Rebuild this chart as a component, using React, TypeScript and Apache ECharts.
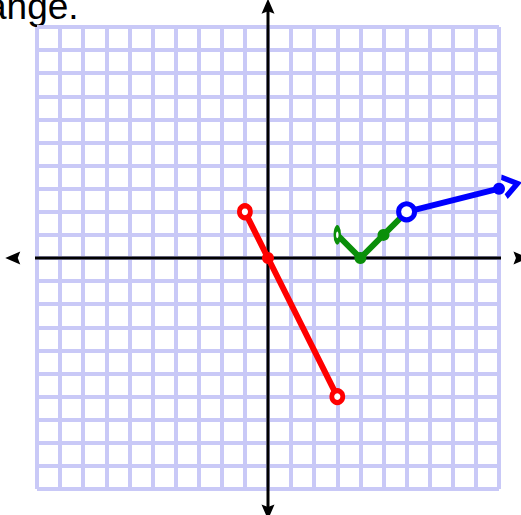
import React, { useEffect, useRef } from "react";
import * as echarts from "echarts";

// Axis range and grid ticks
const axisMin = -10;
const axisMax = 10;
const tickStep = 1;

// Extents of the drawn black axes (beyond the grid, with arrows)
const xAxisExtent = [-11.05, 10.95];
const yAxisExtent = [-11.0, 10.9];

// Red piece: y = -2x, open ends at x=-1 and x=3, solid point at origin
const redX = [-1, 0, 3];
const redY = [2, 0, -6];

// Green piece: y = |x - 4|, open at x=3
const greenX = [3, 4, 5, 6];
const greenY = [1, 0, 1, 2];

// Blue piece: y = 2 + (x-6)/4, open at x=6, continues with arrow
const blueX = [6, 10, 10.6];
const blueY = [2, 3, 3.15];

// Open (hollow) endpoints and filled points
const redOpen = [[-1, 2], [3, -6]];
const redDots = [[0, 0]];
const greenOpen = [[3, 1]];
const greenDots = [[4, 0], [5, 1]];
const blueOpen = [[6, 2]];
const blueDots = [[10, 3]];
const blueArrow = [[10.5, 3.15]];

const headerText = "ange.";

const RED = "#ff0000";
const GREEN = "#0a8f0a";
const BLUE = "#0000ff";

const ARROW_HEAD = "path://M5 0L10 12L5 10L0 12Z";

export default function App() {
  const ref = useRef<HTMLDivElement>(null);

  useEffect(() => {
    if (!ref.current) return;
    const chart = echarts.init(ref.current, undefined, { renderer: "svg" });

    const valueAxis = {
      type: "value" as const,
      min: axisMin,
      max: axisMax,
      interval: tickStep,
      axisLine: { show: false },
      axisTick: { show: false },
      axisLabel: { show: false },
      splitLine: { show: true, lineStyle: { color: "#c9c9f7", width: 4 } },
    };

    const axisLine = (data: number[][]) => ({
      type: "line" as const,
      data,
      clip: false,
      silent: true,
      z: 2,
      symbol: "none",
      lineStyle: { color: "#000", width: 3 },
    });

    const arrowHead = (point: number[], rotate: number) => ({
      type: "scatter" as const,
      data: [point],
      clip: false,
      silent: true,
      z: 3,
      symbol: ARROW_HEAD,
      symbolSize: [13, 15],
      symbolKeepAspect: false,
      symbolRotate: rotate,
      itemStyle: { color: "#000", opacity: 1 },
    });

    const lineSeries = (xs: number[], ys: number[], color: string) => ({
      type: "line" as const,
      data: xs.map((x, i) => [x, ys[i]]),
      clip: false,
      silent: true,
      z: 4,
      symbol: "none",
      lineStyle: { color, width: 6 },
    });

    const openSeries = (data: number[][], color: string, size: any, bw: number) => ({
      type: "scatter" as const,
      data,
      clip: false,
      silent: true,
      z: 6,
      symbol: "circle",
      symbolSize: size,
      itemStyle: { color: "#ffffff", borderColor: color, borderWidth: bw, opacity: 1 },
    });

    const dotSeries = (data: number[][], color: string) => ({
      type: "scatter" as const,
      data,
      clip: false,
      silent: true,
      z: 6,
      symbol: "circle",
      symbolSize: 12,
      itemStyle: { color, opacity: 1 },
    });

    chart.setOption({
      animation: false,
      backgroundColor: "#ffffff",
      grid: { left: 37, top: 27, width: 462, height: 462 },
      xAxis: valueAxis,
      yAxis: valueAxis,
      graphic: [
        {
          type: "text",
          x: -14,
          y: 6,
          style: {
            text: headerText,
            font: '37px "Liberation Sans", Arial, sans-serif',
            fill: "#000",
            verticalAlign: "middle",
          },
        },
      ],
      series: [
        axisLine([[xAxisExtent[0], 0], [xAxisExtent[1], 0]]),
        axisLine([[0, yAxisExtent[0]], [0, yAxisExtent[1]]]),
        arrowHead([xAxisExtent[0], 0], 90),
        arrowHead([xAxisExtent[1], 0], -90),
        arrowHead([0, yAxisExtent[0]], 180),
        arrowHead([0, yAxisExtent[1]], 0),
        lineSeries(redX, redY, RED),
        lineSeries(greenX, greenY, GREEN),
        lineSeries(blueX, blueY, BLUE),
        dotSeries(redDots, RED),
        dotSeries(greenDots, GREEN),
        dotSeries(blueDots, BLUE),
        openSeries(redOpen, RED, [11, 12], 5),
        openSeries(greenOpen, GREEN, [5, 13], 4),
        openSeries(blueOpen, BLUE, [16, 16], 5),
        {
          type: "scatter",
          data: blueArrow,
          clip: false,
          silent: true,
          z: 6,
          symbol: "path://M0 0L9 5L0 10",
          symbolSize: [14, 20],
          symbolKeepAspect: false,
          symbolRotate: 14,
          itemStyle: { color: "transparent", borderColor: BLUE, borderWidth: 5, opacity: 1 },
        },
      ],
    });

    return () => chart.dispose();
  }, []);

  return (
    <div
      ref={ref}
      style={{ position: "fixed", left: 0, top: 0, width: 521, height: 515 }}
    />
  );
}
